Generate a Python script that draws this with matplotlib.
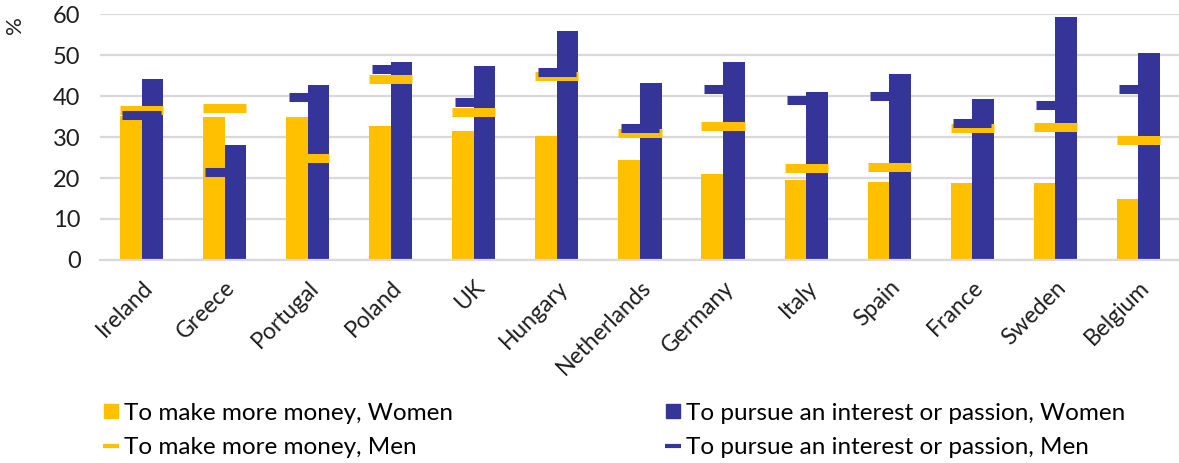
import numpy as np
import matplotlib.pyplot as plt
from matplotlib.lines import Line2D

plt.rcParams['font.family'] = ['Lato', 'DejaVu Sans']

# Data (%)
countries = ['Ireland', 'Greece', 'Portugal', 'Poland', 'UK', 'Hungary', 'Netherlands',
             'Germany', 'Italy', 'Spain', 'France', 'Sweden', 'Belgium']
money_women = [35.2, 34.8, 34.8, 32.8, 31.5, 30.2, 24.5, 21.1, 19.5, 19.0, 18.9, 18.7, 14.8]
passion_women = [44.2, 28.1, 42.8, 48.3, 47.4, 55.8, 43.3, 48.4, 41.1, 45.5, 39.4, 59.4, 50.6]
money_men = [36.5, 37.2, 25.0, 44.1, 36.0, 45.0, 30.9, 32.8, 22.4, 22.8, 32.1, 32.4, 29.2]
passion_men = [35.4, 21.5, 39.8, 46.6, 38.5, 45.9, 32.2, 41.7, 39.0, 40.0, 33.4, 37.8, 41.7]

yellow = '#FFC000'
navy = '#343499'
grid_col = '#d9d9d9'
txt_col = '#1e1e1e'

fig = plt.figure(figsize=(11.79, 4.63), dpi=100)
ax = fig.add_axes([0.0848, 0.4385, 0.916, 0.531])

x = np.arange(len(countries))
bw = 0.26

ax.bar(x - bw / 2, money_women, width=bw, color=yellow, zorder=2)
ax.bar(x + bw / 2, passion_women, width=bw, color=navy, zorder=2)

# men shown as thick dashes across the pair of bars
ax.hlines(money_men, x - 0.26, x + 0.26, colors=yellow, linewidth=6.5, zorder=3)
ax.hlines(passion_men, x - 0.23, x + 0.23, colors=navy, linewidth=6.5, zorder=4)

ax.set_xlim(-0.5, len(countries) - 0.5)
ax.set_ylim(0, 60)
ax.set_yticks(range(0, 61, 10))
ax.yaxis.grid(True, color=grid_col, linewidth=1.6, zorder=0)
ax.set_axisbelow(True)
for s in ['top', 'right', 'left']:
    ax.spines[s].set_visible(False)
ax.spines['bottom'].set_color(grid_col)
ax.spines['bottom'].set_linewidth(1.6)
ax.tick_params(axis='y', length=0, labelsize=17, colors=txt_col, pad=14)
ax.tick_params(axis='x', length=0, labelsize=16.5, colors=txt_col, pad=12)
ax.set_xticks(x)
ax.set_xticklabels(countries, rotation=45, ha='right', rotation_mode='anchor')

fig.text(0.013, 0.945, '%', rotation=90, fontsize=16, color=txt_col, ha='center', va='center')

h1 = [Line2D([], [], linestyle='none', marker='s', markersize=10.5, color=yellow),
      Line2D([], [], linestyle='none', marker='_', markersize=11, markeredgewidth=3, color=yellow)]
h2 = [Line2D([], [], linestyle='none', marker='s', markersize=10.5, color=navy),
      Line2D([], [], linestyle='none', marker='_', markersize=11, markeredgewidth=3, color=navy)]
kw = dict(frameon=False, fontsize=17.5, handlelength=0.6, handletextpad=0.25,
          labelspacing=0.55, borderpad=0, borderaxespad=0)
fig.legend(h1, ['To make more money, Women', 'To make more money, Men'],
           loc='center left', bbox_to_anchor=(0.088, 0.07), **kw)
fig.legend(h2, ['To pursue an interest or passion, Women', 'To pursue an interest or passion, Men'],
           loc='center left', bbox_to_anchor=(0.5645, 0.07), **kw)

fig.savefig('out.png', dpi=100)
